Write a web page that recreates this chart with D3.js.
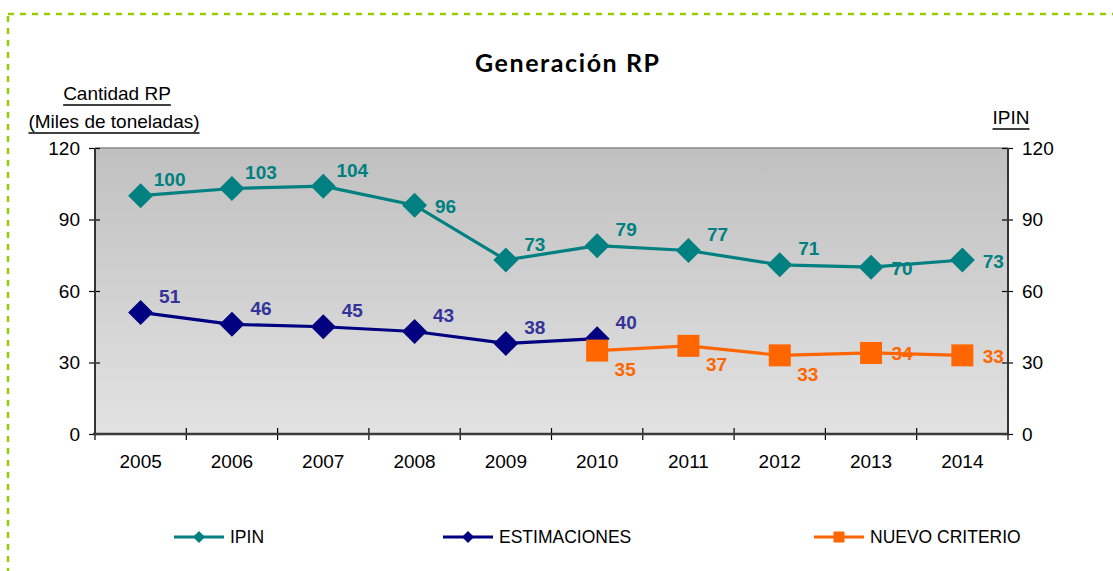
<!DOCTYPE html>
<html lang="es">
<head>
<meta charset="utf-8">
<title>Generación RP</title>
<script src="https://cdn.jsdelivr.net/npm/d3@7/dist/d3.min.js"></script>
<style>
  * { margin: 0; padding: 0; }
  body { background: #fff; overflow: hidden; }
  svg { display: block; font-family: "Liberation Sans", Arial, sans-serif; }
</style>
</head>
<body>
<svg id="chart" width="1113" height="571"></svg>
<script>
const years = ['2005', '2006', '2007', '2008', '2009', '2010', '2011', '2012', '2013', '2014']
const ipin = [100, 103, 104, 96, 73, 79, 77, 71, 70, 73]
const estimaciones = [51, 46, 45, 43, 38, 40]
const nuevoCriterio = [35, 37, 33, 34, 33]
const yTicks = [0, 30, 60, 90, 120]

// where Excel put each data label: 'ur' up-right, 'r' right, 'dr' down-right
const ipinLabelPos = ['ur', 'ur', 'ur', 'r', 'ur', 'ur', 'ur', 'ur', 'r', 'r']
const estLabelPos = ['ur', 'ur', 'ur', 'ur', 'ur', 'ur']
const nuevoLabelPos = ['dr', 'dr', 'dr', 'r', 'r']

const svg = d3.select('#chart')
const M = { left: 95, right: 1008, top: 148, bottom: 434 }

const x = d3.scaleBand().domain(years).range([M.left, M.right])
const y = d3.scaleLinear().domain([0, 120]).range([M.bottom, M.top])
const cx = d => x(d) + x.bandwidth() / 2

// dotted frame
svg.append('rect')
  .attr('x', 8).attr('y', 14).attr('width', 1120).attr('height', 600)
  .attr('fill', 'none').attr('stroke', '#99cc00').attr('stroke-width', 2.5)
  .attr('stroke-dasharray', '6,6')

// plot background gradient
const defs = svg.append('defs')
const grad = defs.append('linearGradient').attr('id', 'bg').attr('x1', 0).attr('y1', 0).attr('x2', 0).attr('y2', 1)
grad.append('stop').attr('offset', '0%').attr('stop-color', '#c0c0c0')
grad.append('stop').attr('offset', '100%').attr('stop-color', '#e2e2e2')

svg.append('rect')
  .attr('x', M.left).attr('y', M.top)
  .attr('width', M.right - M.left).attr('height', M.bottom - M.top)
  .attr('fill', 'url(#bg)')
svg.append('line')
  .attr('x1', M.left).attr('x2', M.right).attr('y1', M.top).attr('y2', M.top)
  .attr('stroke', '#8a8a8a').attr('stroke-width', 1.5)

// title
svg.append('text')
  .attr('x', 567).attr('y', 72).attr('text-anchor', 'middle')
  .attr('font-family', 'Lato, "Open Sans", sans-serif').attr('font-weight', 700).attr('font-size', 25)
  .attr('textLength', 184).attr('lengthAdjust', 'spacing')
  .attr('fill', '#000').text('Generación RP')

// axis titles with underline
function underlined(txt, xc, yb, anchor) {
  const t = svg.append('text').attr('x', xc).attr('y', yb).attr('text-anchor', anchor)
    .attr('font-size', 19).attr('fill', '#000').text(txt)
  const b = t.node().getBBox()
  svg.append('line').attr('x1', b.x).attr('x2', b.x + b.width)
    .attr('y1', yb + 5).attr('y2', yb + 5).attr('stroke', '#000').attr('stroke-width', 1.6)
}
underlined('Cantidad RP', 117, 100, 'middle')
underlined('(Miles de toneladas)', 114, 128, 'middle')
underlined('IPIN', 1011, 124, 'middle')

// axes
const tickStyle = g => {
  g.select('.domain').remove()
  g.selectAll('.tick line').attr('stroke', '#000').attr('stroke-width', 1.2)
  g.selectAll('.tick text').attr('font-size', 19).attr('fill', '#000')
    .attr('font-family', '"Liberation Sans", Arial, sans-serif')
}

svg.append('g').attr('transform', `translate(${M.left + 5},0)`)
  .call(d3.axisLeft(y).tickValues(yTicks).tickSize(11).tickPadding(9))
  .call(tickStyle)
svg.append('g').attr('transform', `translate(${M.right - 6},0)`)
  .call(d3.axisRight(y).tickValues(yTicks).tickSize(11).tickPadding(9))
  .call(tickStyle)

const xb = d3.range(years.length + 1).map(i => M.left + i * x.bandwidth())
svg.append('g').selectAll('line').data(xb).join('line')
  .attr('x1', d => d).attr('x2', d => d)
  .attr('y1', M.bottom - 6).attr('y2', M.bottom + 6)
  .attr('stroke', '#000').attr('stroke-width', 1.2)
svg.append('g').selectAll('text').data(years).join('text')
  .attr('x', d => cx(d)).attr('y', 468).attr('text-anchor', 'middle')
  .attr('font-size', 19).attr('fill', '#000').text(d => d)

svg.append('line').attr('x1', M.left).attr('x2', M.left).attr('y1', M.top).attr('y2', M.bottom + 1)
  .attr('stroke', '#333').attr('stroke-width', 2)
svg.append('line').attr('x1', M.right).attr('x2', M.right).attr('y1', M.top).attr('y2', M.bottom + 1)
  .attr('stroke', '#333').attr('stroke-width', 2)
svg.append('line').attr('x1', M.left - 2).attr('x2', M.right).attr('y1', M.bottom).attr('y2', M.bottom)
  .attr('stroke', '#3a3a3a').attr('stroke-width', 2.5)

// series
const diamond = r => `M0,${-r}L${r},0L0,${r}L${-r},0Z`
const square = r => `M${-r},${-r}H${r}V${r}H${-r}Z`
const offsets = { ur: [29, -16], r: [31, 1], dr: [28, 19] }

function series(vals, start, color, marker, size, labelPos) {
  const pts = vals.map((v, i) => ({ year: years[start + i], v, pos: labelPos[i] }))
  const line = d3.line().x(d => cx(d.year)).y(d => y(d.v))
  svg.append('path').datum(pts).attr('d', line)
    .attr('fill', 'none').attr('stroke', color).attr('stroke-width', 3.2)
  svg.append('g').selectAll('path').data(pts).join('path')
    .attr('transform', d => `translate(${cx(d.year)},${y(d.v)})`)
    .attr('d', marker(size)).attr('fill', color)
  return pts
}
function labels(pts, color) {
  svg.append('g').selectAll('text').data(pts).join('text')
    .attr('x', d => cx(d.year) + offsets[d.pos][0])
    .attr('y', d => y(d.v) + offsets[d.pos][1])
    .attr('text-anchor', 'middle').attr('dominant-baseline', 'central')
    .attr('font-size', 19).attr('font-weight', 700).attr('fill', color)
    .text(d => d.v)
}

const pIpin = series(ipin, 0, '#008080', diamond, 12.5, ipinLabelPos)
const pEst = series(estimaciones, 0, '#000080', diamond, 12.5, estLabelPos)
const pNuevo = series(nuevoCriterio, 5, '#ff6600', square, 11, nuevoLabelPos)
labels(pIpin, '#008080')
labels(pEst, '#333399')
labels(pNuevo, '#ff6600')

// legend
const legend = [
  { name: 'IPIN', color: '#008080', marker: diamond, size: 6, x: 174 },
  { name: 'ESTIMACIONES', color: '#000080', marker: diamond, size: 6, x: 443 },
  { name: 'NUEVO CRITERIO', color: '#ff6600', marker: square, size: 5.5, x: 814 }
]
const lg = svg.append('g').selectAll('g').data(legend).join('g')
  .attr('transform', d => `translate(${d.x},537)`)
lg.append('line').attr('x1', 0).attr('x2', 50).attr('stroke', d => d.color).attr('stroke-width', 3.2)
lg.append('path').attr('transform', 'translate(25,0)').attr('d', d => d.marker(d.size)).attr('fill', d => d.color)
lg.append('text').attr('x', 56).attr('y', 6).attr('font-size', 17.5).attr('fill', '#000').text(d => d.name)
</script>
</body>
</html>
